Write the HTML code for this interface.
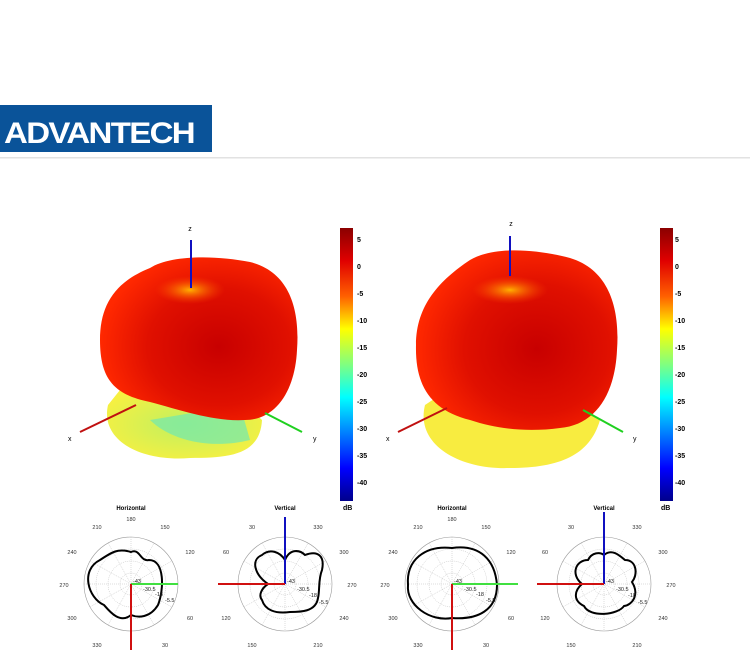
<!DOCTYPE html>
<html><head><meta charset="utf-8"><style>
body{margin:0;width:750px;height:650px;background:#fff;overflow:hidden;font-family:"Liberation Sans",sans-serif}
</style></head><body>
<svg width="750" height="650" viewBox="0 0 750 650" xmlns="http://www.w3.org/2000/svg" font-family="Liberation Sans, sans-serif">
<defs>
<linearGradient id="cb" x1="0" y1="0" x2="0" y2="1">
<stop offset="0" stop-color="#8b0000"/><stop offset="0.12" stop-color="#e00000"/><stop offset="0.25" stop-color="#ff6000"/><stop offset="0.37" stop-color="#ffff00"/><stop offset="0.5" stop-color="#80ff80"/><stop offset="0.62" stop-color="#00ffff"/><stop offset="0.75" stop-color="#0080ff"/><stop offset="0.88" stop-color="#0000ff"/><stop offset="1" stop-color="#00008b"/>
</linearGradient>
<radialGradient id="rb" cx="0.6" cy="0.55" r="0.6">
<stop offset="0" stop-color="#c80000"/><stop offset="0.6" stop-color="#e01000"/><stop offset="1" stop-color="#ff2800"/>
</radialGradient>
<radialGradient id="yl" cx="0.5" cy="0.5" r="0.6">
<stop offset="0" stop-color="#c0f060"/><stop offset="1" stop-color="#f8f040"/>
</radialGradient>
<radialGradient id="tp" cx="0.5" cy="0.5" r="0.5">
<stop offset="0" stop-color="#ffb000"/><stop offset="1" stop-color="#ff4000" stop-opacity="0"/>
</radialGradient>
</defs>
<rect x="0" y="105" width="212" height="47" fill="#0a5399"/>
<text x="4" y="143" font-size="30" font-weight="bold" fill="#fff" letter-spacing="-1.5" textLength="190" lengthAdjust="spacingAndGlyphs">ADVANTECH</text>
<rect x="0" y="157" width="750" height="1.5" fill="#e2e2e2"/>

<!-- left 3D -->
<g>
<path d="M108,405 C100,440 140,462 190,458 C230,458 260,455 262,420 L230,390 L120,390 Z" fill="url(#yl)"/>
<path d="M150,420 C170,440 210,450 250,440 L240,405 Z" fill="#70e8b0" opacity="0.7"/>
<path d="M150,268 C170,255 215,255 250,262 C290,272 300,310 297,350 C295,392 275,420 245,420 C215,422 180,410 150,402 C115,395 100,380 100,340 C100,305 115,282 150,268 Z" fill="url(#rb)"/>
<ellipse cx="190" cy="290" rx="35" ry="14" fill="url(#tp)"/>
<line x1="191" y1="240" x2="191" y2="288" stroke="#1010c0" stroke-width="2"/>
<line x1="80" y1="432" x2="136" y2="405" stroke="#c01010" stroke-width="2"/>
<line x1="265" y1="413" x2="302" y2="432" stroke="#20d020" stroke-width="2"/>
<text x="190" y="231" font-size="7" text-anchor="middle">z</text>
<text x="68" y="441" font-size="7">x</text>
<text x="313" y="441" font-size="7">y</text>
</g>
<!-- right 3D -->
<g>
<path d="M425,405 C415,445 460,470 510,468 C560,468 590,455 600,420 L570,395 L440,395 Z" fill="#f8ec40"/>
<path d="M470,260 C495,245 540,250 570,258 C610,270 620,310 617,350 C615,395 595,425 560,428 C530,432 500,430 470,420 C430,410 415,385 416,345 C416,305 440,280 470,260 Z" fill="url(#rb)"/>
<ellipse cx="510" cy="290" rx="38" ry="14" fill="url(#tp)"/>
<line x1="510" y1="236" x2="510" y2="276" stroke="#1010c0" stroke-width="2"/>
<line x1="398" y1="432" x2="447" y2="408" stroke="#c01010" stroke-width="2"/>
<line x1="583" y1="410" x2="623" y2="432" stroke="#20d020" stroke-width="2"/>
<text x="511" y="226" font-size="7" text-anchor="middle">z</text>
<text x="386" y="441" font-size="7">x</text>
<text x="633" y="441" font-size="7">y</text>
</g>

<!-- colorbars -->
<g font-size="7" font-weight="bold">
<rect x="340" y="228" width="13" height="273" fill="url(#cb)"/>
<text x="357" y="242">5</text><text x="357" y="269">0</text><text x="357" y="296">-5</text><text x="357" y="323">-10</text><text x="357" y="350">-15</text><text x="357" y="377">-20</text><text x="357" y="404">-25</text><text x="357" y="431">-30</text><text x="357" y="458">-35</text><text x="357" y="485">-40</text>
<text x="343" y="510">dB</text>
<rect x="660" y="228" width="13" height="273" fill="url(#cb)"/>
<text x="675" y="242">5</text><text x="675" y="269">0</text><text x="675" y="296">-5</text><text x="675" y="323">-10</text><text x="675" y="350">-15</text><text x="675" y="377">-20</text><text x="675" y="404">-25</text><text x="675" y="431">-30</text><text x="675" y="458">-35</text><text x="675" y="485">-40</text>
<text x="661" y="510">dB</text>
</g>

<g id="polars" font-size="5.5" fill="#333">
<g id="pH" transform="translate(131,584)">
<circle r="47" fill="none" stroke="#999" stroke-width="0.6"/>
<circle r="35" fill="none" stroke="#bbb" stroke-width="0.5" stroke-dasharray="1,1"/>
<circle r="23" fill="none" stroke="#bbb" stroke-width="0.5" stroke-dasharray="1,1"/>
<circle r="11" fill="none" stroke="#bbb" stroke-width="0.5" stroke-dasharray="1,1"/>
<g stroke="#bbb" stroke-width="0.5" stroke-dasharray="1,1"><line x1="-47" y1="0" x2="47" y2="0"/><line x1="0" y1="-47" x2="0" y2="47"/><line x1="-41" y1="-23" x2="41" y2="23"/><line x1="-41" y1="23" x2="41" y2="-23"/><line x1="-23" y1="-41" x2="23" y2="41"/><line x1="-23" y1="41" x2="23" y2="-41"/></g>
</g>
</g>
<g font-size="6" font-weight="bold" text-anchor="middle"><text x="131" y="510">Horizontal</text><text x="285" y="510">Vertical</text><text x="452" y="510">Horizontal</text><text x="604" y="510">Vertical</text></g>
<g font-size="5.5" fill="#333" text-anchor="middle">
<text x="131" y="521">180</text><text x="97" y="529">210</text><text x="165" y="529">150</text><text x="72" y="554">240</text><text x="190" y="554">120</text><text x="64" y="587">270</text><text x="72" y="620">300</text><text x="190" y="620">60</text><text x="97" y="647">330</text><text x="165" y="647">30</text>
<text x="252" y="529">30</text><text x="318" y="529">330</text><text x="226" y="554">60</text><text x="344" y="554">300</text><text x="352" y="587">270</text><text x="226" y="620">120</text><text x="344" y="620">240</text><text x="252" y="647">150</text><text x="318" y="647">210</text>
<text x="452" y="521">180</text><text x="418" y="529">210</text><text x="486" y="529">150</text><text x="393" y="554">240</text><text x="511" y="554">120</text><text x="385" y="587">270</text><text x="393" y="620">300</text><text x="511" y="620">60</text><text x="418" y="647">330</text><text x="486" y="647">30</text>
<text x="571" y="529">30</text><text x="637" y="529">330</text><text x="545" y="554">60</text><text x="663" y="554">300</text><text x="671" y="587">270</text><text x="545" y="620">120</text><text x="663" y="620">240</text><text x="571" y="647">150</text><text x="637" y="647">210</text>
</g>
<use href="#pH" x="154"/><use href="#pH" x="321"/><use href="#pH" x="473"/>

<g fill="none" stroke="#000" stroke-width="2">
<path d="M131,552 C140,548 140,562 149,560 C165,560 164,590 158,605 C150,618 138,618 131,615 C120,624 110,612 104,605 C88,598 80,570 100,560 C112,552 118,548 131,552 Z"/>
<path d="M452,548 C480,544 495,560 497,585 C497,610 478,620 452,618 C430,622 406,605 408,585 C406,560 425,545 452,548 Z"/>
<path d="M285,560 C290,548 300,550 305,555 C318,550 325,556 322,570 C318,580 320,590 318,598 C316,612 300,612 290,612 C275,614 265,610 262,600 C258,595 262,588 268,584 C255,575 250,560 262,555 C270,548 280,552 285,560 Z"/>
<path d="M604,555 C612,548 620,556 625,560 C637,560 638,575 632,582 C640,595 632,605 624,606 C618,615 590,618 584,606 C572,600 575,590 582,584 C570,574 576,560 588,560 C592,552 600,552 604,555 Z"/>
</g>
<g stroke-width="2">
<line x1="131" y1="584" x2="178" y2="584" stroke="#40e040"/><line x1="131" y1="584" x2="131" y2="650" stroke="#d01010"/>
<line x1="285" y1="584" x2="285" y2="517" stroke="#1010c0"/><line x1="285" y1="584" x2="218" y2="584" stroke="#d01010"/>
<line x1="452" y1="584" x2="518" y2="584" stroke="#40e040"/><line x1="452" y1="584" x2="452" y2="650" stroke="#d01010"/>
<line x1="604" y1="584" x2="604" y2="512" stroke="#1010c0"/><line x1="604" y1="584" x2="537" y2="584" stroke="#d01010"/>
</g>
<g font-size="5.5" fill="#222">
<text x="133" y="583">-43</text><text x="143" y="591">-30.5</text><text x="155" y="596">-18</text><text x="165" y="602">-5.5</text>
<text x="287" y="583">-43</text><text x="297" y="591">-30.5</text><text x="309" y="597">-18</text><text x="319" y="604">-5.5</text>
<text x="454" y="583">-43</text><text x="464" y="591">-30.5</text><text x="476" y="596">-18</text><text x="486" y="602">-5.5</text>
<text x="606" y="583">-43</text><text x="616" y="591">-30.5</text><text x="628" y="597">-18</text><text x="638" y="604">-5.5</text>
</g>
</svg>
</body></html>
